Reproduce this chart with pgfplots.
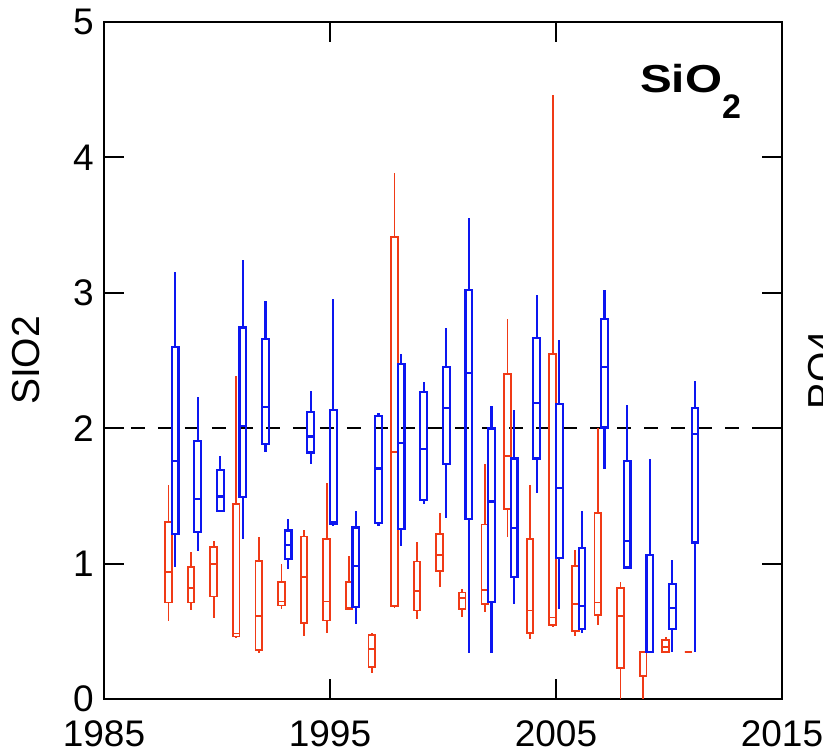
\documentclass[border=0pt]{standalone}
\usepackage{pgfplots}
\pgfplotsset{compat=1.18}
\usepgfplotslibrary{statistics}
\usepackage{graphicx}
\usepackage{fontspec}
\setmainfont{Liberation Sans}
\definecolor{rcol}{RGB}{240,58,22}
\definecolor{bcol}{RGB}{12,22,240}
% x positions are years since 1985
% #1 style, #2 position, #3 lower whisker, #4 lower quartile, #5 median, #6 upper quartile, #7 upper whisker
\newcommand{\BP}[7]{\addplot[#1, boxplot prepared={draw position=#2, lower whisker=#3, lower quartile=#4, median=#5, upper quartile=#6, upper whisker=#7}] coordinates {};}
\begin{document}
\begin{tikzpicture}
\begin{axis}[
  width=678pt, height=677pt, scale only axis,
  xmin=0, xmax=30, ymin=0, ymax=5,
  xtick={0,10,20,30}, xticklabels={1985,1995,2005,2015},
  ytick={0,1,2,3,4,5},
  tick align=inside, major tick length=20pt,
  tick style={black, line width=2pt},
  axis line style={black, line width=2pt},
  tick label style={font=\fontsize{37}{40}\selectfont, inner sep=0pt},
  xticklabel shift=21pt, yticklabel shift=10pt,
  /pgf/number format/assume math mode=true,
  ylabel={SIO2},
  ylabel style={font=\fontsize{39}{42}\selectfont, at={(axis description cs:-0.115,0.5)}, anchor=center, inner sep=0pt},
  boxplot/draw direction=y,
  boxplot/box extend=0.3, boxplot/whisker extend=0,
  redB/.style={draw=rcol, line width=1.8pt, solid},
  blueB/.style={draw=bcol, line width=2.2pt, solid},
]
\coordinate (O) at (axis cs:0,0);
\addplot[black, line width=2.2pt, dash pattern=on 14pt off 13pt] coordinates {(0,2) (30,2)};
% red series (left of each year)
\BP{redB}{2.85}{0.573}{0.712}{0.937}{1.306}{1.58}
\BP{redB}{3.85}{0.66}{0.712}{0.818}{0.976}{1.082}
\BP{redB}{4.85}{0.599}{0.757}{0.995}{1.121}{1.169}
\BP{redB}{5.85}{0.449}{0.462}{0.483}{1.438}{2.383}
\BP{redB}{6.85}{0.343}{0.361}{0.612}{1.021}{1.2}
\BP{redB}{7.85}{0.668}{0.691}{0.72}{0.865}{0.995}
\BP{redB}{8.85}{0.467}{0.562}{0.902}{1.2}{1.248}
\BP{redB}{9.85}{0.488}{0.58}{0.72}{1.182}{1.596}
\BP{redB}{10.85}{0.66}{0.665}{0.673}{0.865}{1.055}
\BP{redB}{11.85}{0.193}{0.237}{0.369}{0.475}{0.488}
\BP{redB}{12.85}{0.673}{0.686}{1.826}{3.412}{3.884}
\BP{redB}{13.85}{0.588}{0.654}{0.8}{1.016}{1.156}
\BP{redB}{14.85}{0.826}{0.945}{1.063}{1.219}{1.377}
\BP{redB}{15.85}{0.607}{0.665}{0.747}{0.786}{0.81}
\BP{redB}{16.85}{0.639}{0.704}{0.805}{1.288}{1.733}
\BP{redB}{17.85}{1.2}{1.404}{1.794}{2.401}{2.81}
\BP{redB}{18.85}{0.443}{0.488}{0.654}{1.179}{1.578}
\BP{redB}{19.85}{0.533}{0.549}{0.602}{2.546}{4.46}
\BP{redB}{20.85}{0.462}{0.501}{0.704}{0.984}{1.1}
\BP{redB}{21.85}{0.546}{0.62}{0.712}{1.372}{2.005}
\BP{redB}{22.85}{0}{0.23}{0.615}{0.818}{0.865}
\BP{redB}{23.85}{0}{0.172}{0.348}{0.348}{0.348}
\BP{redB}{24.85}{0.348}{0.348}{0.383}{0.435}{0.456}
\BP{redB}{25.85}{0.348}{0.348}{0.348}{0.348}{0.348}
% blue series (right of each year)
\BP{blueB}{3.15}{0.976}{1.219}{1.755}{2.599}{3.153}
\BP{blueB}{4.15}{1.095}{1.232}{1.478}{1.908}{2.23}
\BP{blueB}{5.15}{1.38}{1.391}{1.496}{1.689}{1.794}
\BP{blueB}{6.15}{1.179}{1.491}{2.018}{2.744}{3.245}
\BP{blueB}{7.15}{1.821}{1.881}{2.156}{2.657}{2.937}
\BP{blueB}{8.15}{0.958}{1.034}{1.135}{1.245}{1.327}
\BP{blueB}{9.15}{1.736}{1.821}{1.939}{2.119}{2.274}
\BP{blueB}{10.15}{1.274}{1.293}{1.306}{2.132}{2.955}
\BP{blueB}{11.15}{0.554}{0.681}{0.982}{1.266}{1.39}
\BP{blueB}{12.15}{1.274}{1.301}{1.702}{2.092}{2.111}
\BP{blueB}{13.15}{1.127}{1.253}{1.892}{2.472}{2.546}
\BP{blueB}{14.15}{1.443}{1.47}{1.847}{2.269}{2.343}
\BP{blueB}{15.15}{1.34}{1.736}{2.15}{2.449}{2.739}
\BP{blueB}{16.15}{0.343}{1.332}{2.406}{3.021}{3.549}
\BP{blueB}{17.15}{0.343}{0.718}{1.459}{1.997}{2.164}
\BP{blueB}{18.15}{0.704}{0.902}{1.261}{1.776}{2.132}
\BP{blueB}{19.15}{1.522}{1.776}{2.185}{2.665}{2.987}
\BP{blueB}{20.15}{0.668}{1.042}{1.557}{2.177}{2.652}
\BP{blueB}{21.15}{0.488}{0.515}{0.686}{1.116}{1.385}
\BP{blueB}{22.15}{1.702}{2.005}{2.449}{2.805}{3.021}
\BP{blueB}{23.15}{0.958}{0.971}{1.169}{1.755}{2.169}
\BP{blueB}{24.15}{0.348}{0.348}{0.348}{1.063}{1.776}
\BP{blueB}{25.15}{0.348}{0.515}{0.673}{0.85}{1.029}
\BP{blueB}{26.15}{0.348}{1.156}{1.958}{2.15}{2.348}
\end{axis}
\node[anchor=base west, inner sep=0pt] at ([shift={(536pt,606pt)}]O)
  {\fontsize{39}{42}\selectfont\bfseries\scalebox{1.22}[1]{SiO}\raisebox{-26pt}{\fontsize{34}{36}\selectfont 2}};
\node[rotate=90, anchor=north, inner sep=0pt, font=\fontsize{39}{42}\selectfont] at ([shift={(704pt,329pt)}]O) {PO4};
\pgfresetboundingbox
\useasboundingbox ([shift={(-104pt,-55pt)}]O) rectangle ([shift={(719pt,699pt)}]O);
\end{tikzpicture}
\end{document}
